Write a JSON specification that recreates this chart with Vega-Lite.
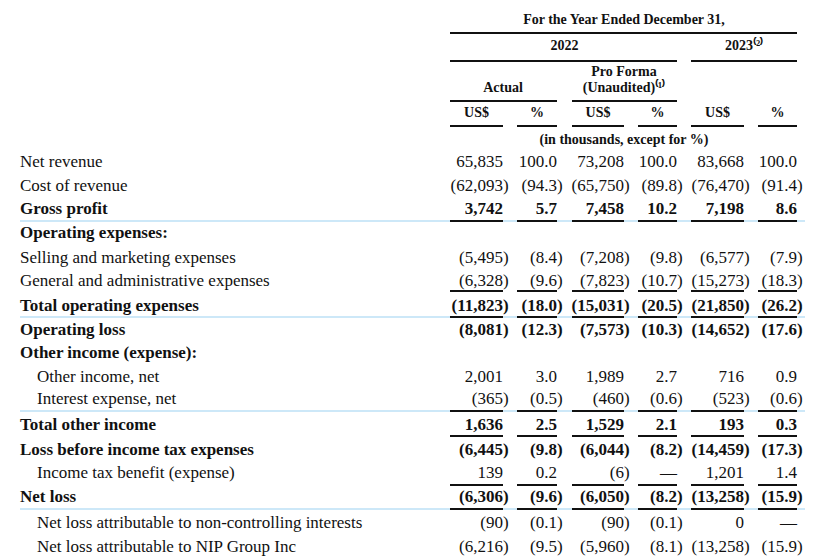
{
  "$schema": "https://vega.github.io/schema/vega-lite/v6.json",
  "width": 830,
  "height": 559,
  "padding": 0,
  "autosize": {"type": "fit", "contains": "padding"},
  "background": "white",
  "config": {"view": {"stroke": null}},
  "datasets": {
    "labels": [
      {"line": 6, "col": 0, "text": "Net revenue", "bold": 0},
      {"line": 7, "col": 0, "text": "Cost of revenue", "bold": 0},
      {"line": 8, "col": 0, "text": "Gross profit", "bold": 1},
      {"line": 9, "col": 0, "text": "Operating expenses:", "bold": 1},
      {"line": 10, "col": 0, "text": "Selling and marketing expenses", "bold": 0},
      {"line": 11, "col": 0, "text": "General and administrative expenses", "bold": 0},
      {"line": 12, "col": 0, "text": "Total operating expenses", "bold": 1},
      {"line": 13, "col": 0, "text": "Operating loss", "bold": 1},
      {"line": 14, "col": 0, "text": "Other income (expense):", "bold": 1},
      {"line": 15, "col": 1, "text": "Other income, net", "bold": 0},
      {"line": 16, "col": 1, "text": "Interest expense, net", "bold": 0},
      {"line": 17, "col": 0, "text": "Total other income", "bold": 1},
      {"line": 18, "col": 0, "text": "Loss before income tax expenses", "bold": 1},
      {"line": 19, "col": 1, "text": "Income tax benefit (expense)", "bold": 0},
      {"line": 20, "col": 0, "text": "Net loss", "bold": 1},
      {"line": 21, "col": 1, "text": "Net loss attributable to non-controlling interests", "bold": 0},
      {"line": 22, "col": 1, "text": "Net loss attributable to NIP Group Inc", "bold": 0}
    ],
    "heads": [
      {"line": 0, "col": 7, "text": "For the Year Ended December 31,"},
      {"line": 1, "col": 5.5, "text": "2022"},
      {"line": 1, "col": 11, "text": "2023⁽²⁾"},
      {"line": 2, "col": 7, "text": "Pro Forma"},
      {"line": 3, "col": 3, "text": "Actual"},
      {"line": 3, "col": 7, "text": "(Unaudited)⁽¹⁾"},
      {"line": 4, "col": 2.5, "text": "US$"},
      {"line": 4, "col": 4.5, "text": "%"},
      {"line": 4, "col": 6.5, "text": "US$"},
      {"line": 4, "col": 8.5, "text": "%"},
      {"line": 4, "col": 10.5, "text": "US$"},
      {"line": 4, "col": 12.5, "text": "%"},
      {"line": 5, "col": 7, "text": "(in thousands, except for %)"}
    ],
    "cells": [
      {"line": 6, "col": 3, "text": "65,835", "bold": 0},
      {"line": 6, "col": 5, "text": "100.0", "bold": 0},
      {"line": 6, "col": 7, "text": "73,208", "bold": 0},
      {"line": 6, "col": 9, "text": "100.0", "bold": 0},
      {"line": 6, "col": 11, "text": "83,668", "bold": 0},
      {"line": 6, "col": 13, "text": "100.0", "bold": 0},
      {"line": 7, "col": 3, "text": "(62,093)", "bold": 0},
      {"line": 7, "col": 5, "text": "(94.3)", "bold": 0},
      {"line": 7, "col": 7, "text": "(65,750)", "bold": 0},
      {"line": 7, "col": 9, "text": "(89.8)", "bold": 0},
      {"line": 7, "col": 11, "text": "(76,470)", "bold": 0},
      {"line": 7, "col": 13, "text": "(91.4)", "bold": 0},
      {"line": 8, "col": 3, "text": "3,742", "bold": 1},
      {"line": 8, "col": 5, "text": "5.7", "bold": 1},
      {"line": 8, "col": 7, "text": "7,458", "bold": 1},
      {"line": 8, "col": 9, "text": "10.2", "bold": 1},
      {"line": 8, "col": 11, "text": "7,198", "bold": 1},
      {"line": 8, "col": 13, "text": "8.6", "bold": 1},
      {"line": 10, "col": 3, "text": "(5,495)", "bold": 0},
      {"line": 10, "col": 5, "text": "(8.4)", "bold": 0},
      {"line": 10, "col": 7, "text": "(7,208)", "bold": 0},
      {"line": 10, "col": 9, "text": "(9.8)", "bold": 0},
      {"line": 10, "col": 11, "text": "(6,577)", "bold": 0},
      {"line": 10, "col": 13, "text": "(7.9)", "bold": 0},
      {"line": 11, "col": 3, "text": "(6,328)", "bold": 0},
      {"line": 11, "col": 5, "text": "(9.6)", "bold": 0},
      {"line": 11, "col": 7, "text": "(7,823)", "bold": 0},
      {"line": 11, "col": 9, "text": "(10.7)", "bold": 0},
      {"line": 11, "col": 11, "text": "(15,273)", "bold": 0},
      {"line": 11, "col": 13, "text": "(18.3)", "bold": 0},
      {"line": 12, "col": 3, "text": "(11,823)", "bold": 1},
      {"line": 12, "col": 5, "text": "(18.0)", "bold": 1},
      {"line": 12, "col": 7, "text": "(15,031)", "bold": 1},
      {"line": 12, "col": 9, "text": "(20.5)", "bold": 1},
      {"line": 12, "col": 11, "text": "(21,850)", "bold": 1},
      {"line": 12, "col": 13, "text": "(26.2)", "bold": 1},
      {"line": 13, "col": 3, "text": "(8,081)", "bold": 1},
      {"line": 13, "col": 5, "text": "(12.3)", "bold": 1},
      {"line": 13, "col": 7, "text": "(7,573)", "bold": 1},
      {"line": 13, "col": 9, "text": "(10.3)", "bold": 1},
      {"line": 13, "col": 11, "text": "(14,652)", "bold": 1},
      {"line": 13, "col": 13, "text": "(17.6)", "bold": 1},
      {"line": 15, "col": 3, "text": "2,001", "bold": 0},
      {"line": 15, "col": 5, "text": "3.0", "bold": 0},
      {"line": 15, "col": 7, "text": "1,989", "bold": 0},
      {"line": 15, "col": 9, "text": "2.7", "bold": 0},
      {"line": 15, "col": 11, "text": "716", "bold": 0},
      {"line": 15, "col": 13, "text": "0.9", "bold": 0},
      {"line": 16, "col": 3, "text": "(365)", "bold": 0},
      {"line": 16, "col": 5, "text": "(0.5)", "bold": 0},
      {"line": 16, "col": 7, "text": "(460)", "bold": 0},
      {"line": 16, "col": 9, "text": "(0.6)", "bold": 0},
      {"line": 16, "col": 11, "text": "(523)", "bold": 0},
      {"line": 16, "col": 13, "text": "(0.6)", "bold": 0},
      {"line": 17, "col": 3, "text": "1,636", "bold": 1},
      {"line": 17, "col": 5, "text": "2.5", "bold": 1},
      {"line": 17, "col": 7, "text": "1,529", "bold": 1},
      {"line": 17, "col": 9, "text": "2.1", "bold": 1},
      {"line": 17, "col": 11, "text": "193", "bold": 1},
      {"line": 17, "col": 13, "text": "0.3", "bold": 1},
      {"line": 18, "col": 3, "text": "(6,445)", "bold": 1},
      {"line": 18, "col": 5, "text": "(9.8)", "bold": 1},
      {"line": 18, "col": 7, "text": "(6,044)", "bold": 1},
      {"line": 18, "col": 9, "text": "(8.2)", "bold": 1},
      {"line": 18, "col": 11, "text": "(14,459)", "bold": 1},
      {"line": 18, "col": 13, "text": "(17.3)", "bold": 1},
      {"line": 19, "col": 3, "text": "139", "bold": 0},
      {"line": 19, "col": 5, "text": "0.2", "bold": 0},
      {"line": 19, "col": 7, "text": "(6)", "bold": 0},
      {"line": 19, "col": 9, "text": "—", "bold": 0},
      {"line": 19, "col": 11, "text": "1,201", "bold": 0},
      {"line": 19, "col": 13, "text": "1.4", "bold": 0},
      {"line": 20, "col": 3, "text": "(6,306)", "bold": 1},
      {"line": 20, "col": 5, "text": "(9.6)", "bold": 1},
      {"line": 20, "col": 7, "text": "(6,050)", "bold": 1},
      {"line": 20, "col": 9, "text": "(8.2)", "bold": 1},
      {"line": 20, "col": 11, "text": "(13,258)", "bold": 1},
      {"line": 20, "col": 13, "text": "(15.9)", "bold": 1},
      {"line": 21, "col": 3, "text": "(90)", "bold": 0},
      {"line": 21, "col": 5, "text": "(0.1)", "bold": 0},
      {"line": 21, "col": 7, "text": "(90)", "bold": 0},
      {"line": 21, "col": 9, "text": "(0.1)", "bold": 0},
      {"line": 21, "col": 11, "text": "0", "bold": 0},
      {"line": 21, "col": 13, "text": "—", "bold": 0},
      {"line": 22, "col": 3, "text": "(6,216)", "bold": 0},
      {"line": 22, "col": 5, "text": "(9.5)", "bold": 0},
      {"line": 22, "col": 7, "text": "(5,960)", "bold": 0},
      {"line": 22, "col": 9, "text": "(8.1)", "bold": 0},
      {"line": 22, "col": 11, "text": "(13,258)", "bold": 0},
      {"line": 22, "col": 13, "text": "(15.9)", "bold": 0}
    ],
    "rules": [
      {"line": 8, "from": 0, "to": 14, "kind": "blue"},
      {"line": 12, "from": 0, "to": 14, "kind": "blue"},
      {"line": 16, "from": 0, "to": 14, "kind": "blue"},
      {"line": 20, "from": 0, "to": 14, "kind": "blue"},
      {"line": 0, "from": 2, "to": 13, "kind": "black"},
      {"line": 1, "from": 2, "to": 9, "kind": "black"},
      {"line": 1, "from": 10, "to": 13, "kind": "black"},
      {"line": 3, "from": 2, "to": 5, "kind": "black"},
      {"line": 3, "from": 6, "to": 9, "kind": "black"},
      {"line": 4, "from": 2, "to": 3, "kind": "black"},
      {"line": 4, "from": 4, "to": 5, "kind": "black"},
      {"line": 4, "from": 6, "to": 7, "kind": "black"},
      {"line": 4, "from": 8, "to": 9, "kind": "black"},
      {"line": 4, "from": 10, "to": 11, "kind": "black"},
      {"line": 4, "from": 12, "to": 13, "kind": "black"},
      {"line": 8, "from": 2, "to": 3, "kind": "black"},
      {"line": 8, "from": 4, "to": 5, "kind": "black"},
      {"line": 8, "from": 6, "to": 7, "kind": "black"},
      {"line": 8, "from": 8, "to": 9, "kind": "black"},
      {"line": 8, "from": 10, "to": 11, "kind": "black"},
      {"line": 8, "from": 12, "to": 13, "kind": "black"},
      {"line": 11, "from": 2, "to": 3, "kind": "black"},
      {"line": 11, "from": 4, "to": 5, "kind": "black"},
      {"line": 11, "from": 6, "to": 7, "kind": "black"},
      {"line": 11, "from": 8, "to": 9, "kind": "black"},
      {"line": 11, "from": 10, "to": 11, "kind": "black"},
      {"line": 11, "from": 12, "to": 13, "kind": "black"},
      {"line": 12, "from": 2, "to": 3, "kind": "black"},
      {"line": 12, "from": 4, "to": 5, "kind": "black"},
      {"line": 12, "from": 6, "to": 7, "kind": "black"},
      {"line": 12, "from": 8, "to": 9, "kind": "black"},
      {"line": 12, "from": 10, "to": 11, "kind": "black"},
      {"line": 12, "from": 12, "to": 13, "kind": "black"},
      {"line": 16, "from": 2, "to": 3, "kind": "black"},
      {"line": 16, "from": 4, "to": 5, "kind": "black"},
      {"line": 16, "from": 6, "to": 7, "kind": "black"},
      {"line": 16, "from": 8, "to": 9, "kind": "black"},
      {"line": 16, "from": 10, "to": 11, "kind": "black"},
      {"line": 16, "from": 12, "to": 13, "kind": "black"},
      {"line": 17, "from": 2, "to": 3, "kind": "black"},
      {"line": 17, "from": 4, "to": 5, "kind": "black"},
      {"line": 17, "from": 6, "to": 7, "kind": "black"},
      {"line": 17, "from": 8, "to": 9, "kind": "black"},
      {"line": 17, "from": 10, "to": 11, "kind": "black"},
      {"line": 17, "from": 12, "to": 13, "kind": "black"},
      {"line": 19, "from": 2, "to": 3, "kind": "black"},
      {"line": 19, "from": 4, "to": 5, "kind": "black"},
      {"line": 19, "from": 6, "to": 7, "kind": "black"},
      {"line": 19, "from": 8, "to": 9, "kind": "black"},
      {"line": 19, "from": 10, "to": 11, "kind": "black"},
      {"line": 19, "from": 12, "to": 13, "kind": "black"},
      {"line": 20, "from": 2, "to": 3, "kind": "black"},
      {"line": 20, "from": 4, "to": 5, "kind": "black"},
      {"line": 20, "from": 6, "to": 7, "kind": "black"},
      {"line": 20, "from": 8, "to": 9, "kind": "black"},
      {"line": 20, "from": 10, "to": 11, "kind": "black"},
      {"line": 20, "from": 12, "to": 13, "kind": "black"}
    ]
  },
  "layer": [
    {
      "layer": [
        {
          "data": {"name": "labels"},
          "transform": [{"filter": "datum.bold == 0"}],
          "mark": {"type": "text", "align": "left", "baseline": "middle", "font": "Liberation Serif", "fontSize": 17, "color": "#111111"},
          "encoding": {
            "x": {"field": "col", "type": "quantitative", "axis": null, "scale": {"type": "linear", "domain": [0,1,2,3,4,5,6,7,8,9,10,11,12,13,14], "range": [20,37,450,503,517,557,572,624,638,677,691,744,758,797,805], "zero": false, "nice": false}},
            "y": {"field": "line", "type": "quantitative", "axis": null, "scale": {"type": "linear", "domain": [0,1,2,3,4,5,6,7,8,9,10,11,12,13,14,15,16,17,18,19,20,21,22], "range": [20,46,72,88,113,140,162,186,209,233,258,281,306,330,353,377,399,425,450,473,497,523,547], "zero": false, "nice": false}},
            "text": {"field": "text", "type": "nominal"}
          }
        },
        {
          "data": {"name": "labels"},
          "transform": [{"filter": "datum.bold == 1"}],
          "mark": {"type": "text", "align": "left", "baseline": "middle", "font": "Liberation Serif", "fontSize": 17, "fontWeight": "bold", "color": "#111111"},
          "encoding": {
            "x": {"field": "col", "type": "quantitative", "axis": null},
            "y": {"field": "line", "type": "quantitative", "axis": null},
            "text": {"field": "text", "type": "nominal"}
          }
        },
        {
          "data": {"name": "cells"},
          "transform": [{"filter": "datum.bold == 0"}, {"calculate": "replace(datum.text, ')', '')", "as": "num"}],
          "mark": {"type": "text", "align": "right", "baseline": "middle", "font": "Liberation Serif", "fontSize": 17, "color": "#111111"},
          "encoding": {
            "x": {"field": "col", "type": "quantitative", "axis": null},
            "y": {"field": "line", "type": "quantitative", "axis": null},
            "text": {"field": "num", "type": "nominal"}
          }
        },
        {
          "data": {"name": "cells"},
          "transform": [{"filter": "datum.bold == 1"}, {"calculate": "replace(datum.text, ')', '')", "as": "num"}],
          "mark": {"type": "text", "align": "right", "baseline": "middle", "font": "Liberation Serif", "fontSize": 17, "fontWeight": "bold", "color": "#111111"},
          "encoding": {
            "x": {"field": "col", "type": "quantitative", "axis": null},
            "y": {"field": "line", "type": "quantitative", "axis": null},
            "text": {"field": "num", "type": "nominal"}
          }
        },
        {
          "data": {"name": "cells"},
          "transform": [{"filter": "datum.bold == 0 && indexof(datum.text, ')') >= 0"}],
          "mark": {"type": "text", "align": "left", "baseline": "middle", "font": "Liberation Serif", "fontSize": 17, "color": "#111111", "text": ")"},
          "encoding": {
            "x": {"field": "col", "type": "quantitative", "axis": null},
            "y": {"field": "line", "type": "quantitative", "axis": null}
          }
        },
        {
          "data": {"name": "cells"},
          "transform": [{"filter": "datum.bold == 1 && indexof(datum.text, ')') >= 0"}],
          "mark": {"type": "text", "align": "left", "baseline": "middle", "font": "Liberation Serif", "fontSize": 17, "fontWeight": "bold", "color": "#111111", "text": ")"},
          "encoding": {
            "x": {"field": "col", "type": "quantitative", "axis": null},
            "y": {"field": "line", "type": "quantitative", "axis": null}
          }
        },
        {
          "data": {"name": "heads"},
          "mark": {"type": "text", "align": "center", "baseline": "middle", "font": "Liberation Serif", "fontSize": 14, "fontWeight": "bold", "color": "#111111"},
          "encoding": {
            "x": {"field": "col", "type": "quantitative", "axis": null},
            "y": {"field": "line", "type": "quantitative", "axis": null},
            "text": {"field": "text", "type": "nominal"}
          }
        }
      ]
    },
    {
      "layer": [
        {
          "data": {"name": "rules"},
          "transform": [{"filter": "datum.kind == 'blue'"}],
          "mark": {"type": "rule", "color": "#cde8f8", "strokeWidth": 2},
          "encoding": {
            "x": {"field": "from", "type": "quantitative", "axis": null},
            "x2": {"field": "to"},
            "y": {"field": "line", "type": "quantitative", "axis": null, "scale": {"type": "linear", "domain": [0,1,2,3,4,5,6,7,8,9,10,11,12,13,14,15,16,17,18,19,20,21], "range": [33,61,80,101,126,151,174,197.5,221,245.5,269.5,291,317,341.5,365,388,411,436,461.5,485,509,535], "zero": false, "nice": false}}
          }
        },
        {
          "data": {"name": "rules"},
          "transform": [{"filter": "datum.kind == 'black'"}],
          "mark": {"type": "rule", "color": "#111111", "strokeWidth": 1.8},
          "encoding": {
            "x": {"field": "from", "type": "quantitative", "axis": null},
            "x2": {"field": "to"},
            "y": {"field": "line", "type": "quantitative", "axis": null}
          }
        }
      ]
    }
  ],
  "resolve": {"scale": {"y": "independent", "x": "shared"}}
}
